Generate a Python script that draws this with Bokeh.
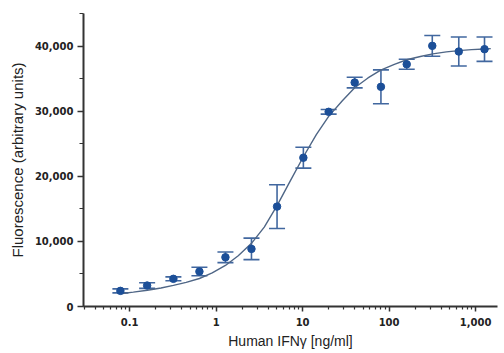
from bokeh.plotting import figure
from bokeh.models import (ColumnDataSource, Whisker, FixedTicker, SingleIntervalTicker,
                          NumeralTickFormatter, Range1d)
from bokeh.embed import file_html
from bokeh.resources import INLINE

# Measured data points (concentration ng/ml, mean fluorescence, +/- error)
conc = [0.078, 0.159, 0.32, 0.64, 1.28, 2.56, 5.06, 10.2, 20, 40, 80.5, 160, 316, 640, 1270]
fluor = [2400, 3220, 4250, 5370, 7560, 8850, 15340, 22850, 29900, 34400, 33740, 37200, 40030, 39160, 39520]
err = [300, 430, 300, 650, 820, 1650, 3370, 1600, 350, 820, 2600, 770, 1590, 2220, 1870]

# Fitted curve
curve_x = [0.078, 0.11, 0.16, 0.23, 0.32, 0.45, 0.64, 0.9, 1.28, 1.8, 2.56, 3.6, 5.06, 7.2,
           10.2, 14.4, 20, 28.8, 40, 57, 80, 115, 160, 230, 320, 460, 640, 900, 1280, 1500]
curve_y = [1950, 2200, 2500, 2850, 3250, 3700, 4300, 5150, 6300, 7800, 9700, 12200, 15500, 19300,
           23000, 26400, 29200, 31600, 33600, 35100, 36300, 37200, 37900, 38400, 38800, 39100,
           39300, 39450, 39550, 39600]

x_major = [0.1, 1, 10, 100, 1000]
y_major = [0, 10000, 20000, 30000, 40000]

src = ColumnDataSource(dict(x=conc, y=fluor,
                            lo=[f - e for f, e in zip(fluor, err)],
                            hi=[f + e for f, e in zip(fluor, err)]))

p = figure(width=500, height=351, x_axis_type="log",
           x_range=Range1d(0.0292, 1795), y_range=Range1d(0, 45000),
           output_backend="svg", toolbar_location=None,
           min_border_left=83, min_border_top=13, min_border_right=3, min_border_bottom=45)
p.outline_line_color = None
p.grid.visible = False
p.background_fill_color = "white"
p.border_fill_color = "white"

p.line(curve_x, curve_y, line_color="#4f6686", line_width=1.4)

wh = Whisker(source=src, base="x", lower="lo", upper="hi",
             line_color="#41679f", line_width=1.6)
wh.upper_head.size = 16
wh.lower_head.size = 16
wh.upper_head.line_color = "#41679f"
wh.lower_head.line_color = "#41679f"
wh.upper_head.line_width = 1.6
wh.lower_head.line_width = 1.6
p.add_layout(wh)

p.scatter("x", "y", source=src, size=7.5, fill_color="#1c4f98", line_color="#1c4f98")

minor = [m * d for d in [0.01, 0.1, 1, 10, 100, 1000] for m in range(2, 10)]
p.xaxis.ticker = FixedTicker(ticks=x_major, minor_ticks=minor)
p.xaxis.formatter = NumeralTickFormatter(format="0,0.[0]")
p.yaxis.ticker = SingleIntervalTicker(interval=10000, num_minor_ticks=2)
p.yaxis.formatter = NumeralTickFormatter(format="0,0")

for ax in (p.xaxis[0], p.yaxis[0]):
    ax.axis_line_color = "#333333"
    ax.axis_line_width = 2
    ax.major_tick_line_color = "#333333"
    ax.minor_tick_line_color = "#333333"
    ax.major_tick_line_width = 1.5
    ax.minor_tick_line_width = 1.2
    ax.major_tick_in = 0
    ax.minor_tick_in = 0
    ax.major_label_text_font = "DejaVu Sans"
    ax.major_label_text_font_style = "bold"
    ax.major_label_text_font_size = "10px"
    ax.major_label_text_color = "#222222"
    ax.axis_label_text_font = "Liberation Sans"
    ax.axis_label_text_font_style = "normal"
    ax.axis_label_text_color = "#222222"

p.xaxis.major_tick_out = 5
p.xaxis.minor_tick_out = 3
p.xaxis.major_label_standoff = 6
p.xaxis.axis_label = "Human IFN\u03b3 [ng/ml]"
p.xaxis.axis_label_text_font_size = "14px"
p.xaxis.axis_label_standoff = 4

p.yaxis.major_tick_out = 6
p.yaxis.minor_tick_out = 4
p.yaxis.major_label_standoff = 4
p.yaxis.axis_label = "Fluorescence (arbitrary units)"
p.yaxis.axis_label_text_font_size = "15px"
p.yaxis.axis_label_standoff = 6

open("out.html", "w").write(file_html(p, INLINE))
